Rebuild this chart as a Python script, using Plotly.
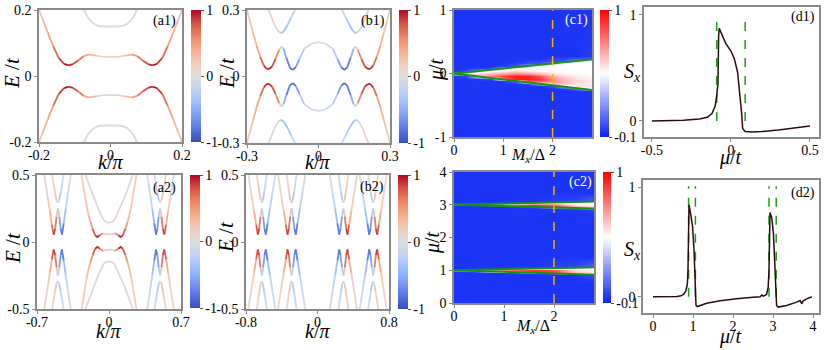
import plotly.graph_objects as go
from plotly.colors import sample_colorscale

W, H = 830, 350
FONT = "Liberation Serif"
FRAME = "#8a8a8a"

COOLWARM = [[0.0, "#3b4cc0"], [0.1, "#5977e3"], [0.2, "#7b9ff9"], [0.3, "#9ebeff"],
            [0.4, "#c0d4f5"], [0.5, "#dddcdc"], [0.6, "#f2cbb7"], [0.7, "#f7ac8e"],
            [0.8, "#ee8468"], [0.9, "#d65244"], [1.0, "#b40426"]]
BWR = [[0.0, "#0a24f5"], [0.5, "#ffffff"], [1.0, "#ff0000"]]

# ---------------- band data (k >= 0, E > 0 half; other quadrants by symmetry)
A1_IN_K = [0, 0.02, 0.04, 0.06, 0.075, 0.09, 0.105, 0.117, 0.13, 0.145, 0.16, 0.175, 0.19, 0.2, 0.21]
A1_IN_E = [0.057, 0.058, 0.062, 0.065, 0.06, 0.047, 0.036, 0.032, 0.037, 0.055, 0.09, 0.13, 0.172, 0.2, 0.23]
A1_IN_S = [0.05, 0.1, 0.22, 0.38, 0.55, 0.75, 0.9, 0.95, 0.92, 0.8, 0.55, 0.38, 0.28, 0.22, 0.2]

A1_OUT_K = [0, 0.02, 0.035, 0.045, 0.055, 0.065, 0.075, 0.085]
A1_OUT_E = [0.149, 0.15, 0.152, 0.157, 0.166, 0.18, 0.2, 0.225]
A1_OUT_S = [0.03, 0.03, 0.04, 0.05, 0.06, 0.08, 0.1, 0.1]

B1_IN_K = [0, 0.03, 0.06, 0.08, 0.095, 0.108, 0.12, 0.135, 0.147, 0.155, 0.165,
           0.18, 0.195, 0.208, 0.218, 0.23, 0.245, 0.26, 0.275, 0.29, 0.305]
B1_IN_E = [0.155, 0.148, 0.125, 0.078, 0.042, 0.03, 0.04, 0.085, 0.125, 0.135, 0.12,
           0.08, 0.045, 0.033, 0.035, 0.05, 0.09, 0.14, 0.2, 0.26, 0.32]
B1_IN_S = [-0.03, -0.06, -0.18, -0.45, -0.75, -0.92, -0.85, -0.65, -0.4, 0.0, 0.45,
           0.7, 0.88, 0.95, 0.95, 0.85, 0.55, 0.38, 0.28, 0.22, 0.18]

B1_UP_K = [0.085, 0.1, 0.115, 0.13, 0.145, 0.157, 0.17, 0.185, 0.2, 0.215]
B1_UP_E = [0.33, 0.297, 0.265, 0.232, 0.205, 0.195, 0.205, 0.235, 0.275, 0.315]
B1_UP_S = [-0.1, -0.15, -0.25, -0.35, -0.4, -0.3, 0.0, 0.12, 0.1, 0.08]

A2_IN_K = [0, 0.03, 0.06, 0.09, 0.113, 0.135, 0.16, 0.18, 0.2, 0.22, 0.24, 0.26, 0.275]
A2_IN_E = [0.06, 0.058, 0.066, 0.05, 0.037, 0.05, 0.1, 0.15, 0.205, 0.28, 0.37, 0.47, 0.54]
A2_IN_S = [0.05, 0.12, 0.4, 0.8, 0.95, 0.9, 0.6, 0.4, 0.3, 0.24, 0.2, 0.16, 0.14]

A2_OUT_K = [0, 0.03, 0.05, 0.075, 0.1, 0.125, 0.15, 0.18, 0.21, 0.24, 0.26]
A2_OUT_E = [0.145, 0.15, 0.163, 0.2, 0.24, 0.28, 0.33, 0.39, 0.45, 0.52, 0.56]
A2_OUT_S = [0.03, 0.03, 0.04, 0.06, 0.06, 0.07, 0.07, 0.07, 0.06, 0.05, 0.05]

# profile shared by the side crossings (lower band and upper V)
SIDE_LOW_E = [0.56, 0.46, 0.36, 0.25, 0.14, 0.055, 0.1, 0.19, 0.25, 0.19, 0.1, 0.055, 0.13, 0.23, 0.33, 0.43, 0.53]
SIDE_LOW_S = [-0.04, -0.06, -0.12, -0.25, -0.55, -0.9, -0.75, -0.5, 0.0, 0.5, 0.8, 0.92, 0.55, 0.3, 0.15, 0.08, 0.04]
SIDE_UP_E = [0.56, 0.46, 0.37, 0.31, 0.295, 0.31, 0.37, 0.46, 0.56]
SIDE_UP_S = [-0.04, -0.08, -0.2, -0.35, -0.1, 0.3, 0.2, 0.08, 0.04]

A2_SIDE_LOW_K = [0.36, 0.38, 0.4, 0.42, 0.44, 0.457, 0.47, 0.483, 0.497, 0.51, 0.523, 0.538, 0.555, 0.575, 0.595, 0.615, 0.635]
A2_SIDE_UP_K = [0.43, 0.45, 0.47, 0.485, 0.497, 0.51, 0.525, 0.545, 0.565]

B2_G1_LOW_K = [0.123, 0.147, 0.17, 0.197, 0.223, 0.243, 0.258, 0.274, 0.29, 0.306, 0.321, 0.336, 0.354, 0.378, 0.402, 0.425, 0.449]
B2_G2_LOW_K = [0.458, 0.482, 0.505, 0.532, 0.558, 0.578, 0.593, 0.608, 0.623, 0.638, 0.653, 0.668, 0.686, 0.71, 0.734, 0.757, 0.781]
B2_G1_UP_K = [0.223, 0.243, 0.263, 0.278, 0.29, 0.302, 0.317, 0.337, 0.357]
B2_G2_UP_K = [0.556, 0.576, 0.596, 0.611, 0.623, 0.635, 0.65, 0.67, 0.69]

# ---------------- heat maps
C1_M = [0, 0.25, 0.5, 0.75, 1.0, 1.25, 1.5, 1.75, 2.0, 2.25, 2.5, 2.8]
C1_MU = [-1.0, -0.6, -0.32, -0.28, -0.24, -0.20, -0.16, -0.12, -0.08, -0.04,
         0.0, 0.04, 0.08, 0.12, 0.16, 0.20, 0.24, 0.28, 0.6, 1.0]
B = -0.06
C1_Z = [
    [B, B, B, B, B, B, B, B, B, B, B, B],
    [B, B, B, B, B, B, B, B, B, B, B, B],
    [B, B, B, B, B, B, B, B, B, B, B, B],
    [B, B, B, B, B, B, B, B, B, B, B, -0.04],
    [B, B, B, B, B, B, B, B, B, B, 0.1, 0.5],
    [B, B, B, B, B, B, B, B, 0.0, 0.35, 0.52, 0.5],
    [B, B, B, B, B, B, -0.02, 0.3, 0.58, 0.55, 0.52, 0.5],
    [B, B, B, B, -0.04, 0.05, 0.8, 0.82, 0.7, 0.6, 0.54, 0.5],
    [B, B, -0.04, 0.0, 0.72, 0.93, 0.95, 0.88, 0.7, 0.58, 0.52, 0.48],
    [-0.04, -0.02, 0.5, 0.72, 0.87, 0.95, 0.92, 0.82, 0.62, 0.53, 0.49, 0.47],
    [0.3, 0.5, 0.6, 0.62, 0.68, 0.75, 0.72, 0.62, 0.52, 0.48, 0.46, 0.45],
    [-0.04, -0.01, 0.3, 0.45, 0.5, 0.55, 0.5, 0.48, 0.46, 0.45, 0.45, 0.45],
    [B, B, -0.04, 0.0, 0.3, 0.45, 0.45, 0.46, 0.45, 0.45, 0.45, 0.45],
    [B, B, B, B, -0.03, 0.02, 0.3, 0.45, 0.45, 0.45, 0.45, 0.45],
    [B, B, B, B, B, -0.03, 0.0, 0.02, 0.3, 0.45, 0.45, 0.45],
    [B, B, B, B, B, B, -0.03, -0.02, 0.0, 0.02, 0.3, 0.45],
    [B, B, B, B, B, B, B, B, -0.03, -0.02, 0.0, 0.05],
    [B, B, B, B, B, B, B, B, B, B, B, -0.04],
    [B, B, B, B, B, B, B, B, B, B, B, B],
    [B, B, B, B, B, B, B, B, B, B, B, B],
]

C2_M = [0, 0.4, 0.8, 1.2, 1.6, 2.0, 2.4, 2.8]
C2_MU = [0.0, 0.6, 0.84, 0.88, 0.92, 0.96, 1.0, 1.04, 1.08, 1.12, 1.4,
         2.6, 2.84, 2.88, 2.92, 2.96, 3.0, 3.04, 3.08, 3.12, 3.4, 4.0]
C2_Z = [
    [B, B, B, B, B, B, B, B],
    [B, B, B, B, B, B, B, B],
    [B, B, B, B, B, B, B, 0.0],
    [B, B, B, B, B, -0.02, 0.3, 0.5],
    [B, B, B, -0.02, 0.35, 0.65, 0.58, 0.5],
    [B, -0.02, 0.3, 0.68, 0.9, 0.85, 0.6, 0.5],
    [0.4, 0.5, 0.58, 0.78, 0.9, 0.85, 0.52, 0.47],
    [-0.03, 0.0, 0.05, 0.3, 0.47, 0.5, 0.45, 0.45],
    [B, B, B, -0.03, -0.02, 0.05, 0.3, 0.45],
    [B, B, B, B, B, -0.03, -0.02, 0.05],
    [B, B, B, B, B, B, B, B],
    [B, B, B, B, B, B, B, B],
    [B, B, B, B, B, B, B, -0.03],
    [B, B, B, B, B, B, -0.02, 0.15],
    [B, B, B, B, -0.02, 0.35, 0.58, 0.5],
    [B, B, 0.0, 0.4, 0.88, 0.85, 0.62, 0.5],
    [0.4, 0.5, 0.58, 0.78, 0.9, 0.8, 0.52, 0.47],
    [-0.03, 0.0, 0.05, 0.3, 0.47, 0.5, 0.46, 0.45],
    [B, B, B, -0.03, -0.02, 0.05, 0.3, 0.45],
    [B, B, B, B, B, -0.03, -0.02, 0.05],
    [B, B, B, B, B, B, B, B],
    [B, B, B, B, B, B, B, B],
]

C_EDGE_M = [0, 2.8]
C1_EDGE_UP = [0, 0.224]
C1_EDGE_LO = [0, -0.26]
C2_EDGE_UP1 = [1.0, 1.095]
C2_EDGE_LO1 = [1.0, 0.86]
C2_EDGE_UP3 = [3.0, 3.098]
C2_EDGE_LO3 = [3.0, 2.888]
C_CUT = 2.0

# ---------------- line cuts
D1_MU = [-0.5, -0.4, -0.3, -0.2, -0.15, -0.12, -0.1, -0.09, -0.082, -0.078,
         -0.074, -0.053, -0.032, 0.0, 0.021, 0.042, 0.057, 0.068, 0.074, 0.09,
         0.13, 0.2, 0.3, 0.4, 0.5]
D1_S = [0.0, 0.002, 0.006, 0.018, 0.035, 0.07, 0.14, 0.24, 0.35, 0.8,
        0.875, 0.8, 0.73, 0.66, 0.59, 0.46, 0.27, 0.07, -0.07, -0.1,
        -0.105, -0.1, -0.085, -0.065, -0.047]
D1_MARKS = [-0.09, 0.09]

D2_MU = [0.0, 0.3, 0.6, 0.7, 0.76, 0.82, 0.86, 0.875, 0.885, 0.9,
         0.94, 0.99, 1.025, 1.05, 1.075, 1.11, 1.34, 1.68, 2.09, 2.5,
         2.68, 2.72, 2.76, 2.84, 2.88, 2.9, 2.91, 2.925, 2.97, 3.01,
         3.04, 3.075, 3.09, 3.13, 3.34, 3.59, 3.68, 3.72, 3.75, 3.84, 3.97]
D2_S = [0.0, 0.0, 0.002, 0.008, 0.02, 0.05, 0.12, 0.25, 0.5, 0.84,
        0.76, 0.64, 0.43, 0.15, -0.08, -0.09, -0.06, -0.037, -0.018, -0.006,
        0.0, 0.015, 0.005, 0.02, 0.09, 0.24, 0.5, 0.77, 0.72, 0.58,
        0.34, 0.06, -0.08, -0.095, -0.08, -0.05, -0.035, -0.065, -0.04, -0.02, 0.0]
D2_MARKS = [0.89, 1.06, 2.9, 3.08]

# ---------------- panel geometry: box = (left, right, top, bottom) in px
PANELS = [
    ("a1", (39, 182, 10, 142), [-0.2, 0.2], [-0.2, 0.2], [-0.2, 0, 0.2], [-0.2, 0, 0.2]),
    ("b1", (247, 390, 10, 143), [-0.3, 0.3], [-0.3, 0.3], [-0.3, 0, 0.3], [-0.3, 0, 0.3]),
    ("c1", (454, 592, 10, 137), [0, 2.8], [-1, 1], [0, 1, 2], [-1, 0, 1]),
    ("d1", (644, 819, 7, 137), [-0.55, 0.557], [-0.151, 1.075], [-0.5, 0, 0.5], [0, 1]),
    ("a2", (37, 181, 175, 309), [-0.7, 0.7], [-0.5, 0.5], [-0.7, 0, 0.7], [-0.5, 0, 0.5]),
    ("b2", (246, 389, 175, 309), [-0.8, 0.8], [-0.5, 0.5], [-0.8, 0, 0.8], [-0.5, 0, 0.5]),
    ("c2", (454, 594, 172, 303), [0, 2.8], [0, 4], [0, 1, 2], [0, 1, 2, 3, 4]),
    ("d2", (643, 819, 180, 313), [-0.25, 4.15], [-0.149, 1.067], [0, 1, 2, 3, 4], [0, 1]),
]
AX = {name: i + 1 for i, (name, *_) in enumerate(PANELS)}


def refs(name):
    i = AX[name]
    return ("x" if i == 1 else f"x{i}"), ("y" if i == 1 else f"y{i}")


def tick_text(vals):
    return ["0" if v == 0 else f"{v:g}" for v in vals]


def symmetric(k, e, s, through_zero):
    if through_zero:
        kk = [-v for v in k[:0:-1]] + list(k)
        ee = list(e[:0:-1]) + list(e)
        ss = list(s[:0:-1]) + list(s)
        return [(kk, ee, ss), (kk, [-v for v in ee], ss)]
    out = []
    for sk in (1, -1):
        for se in (1, -1):
            out.append(([sk * v for v in k], [se * v for v in e], list(s)))
    return out


NBIN = 40


def add_bands(fig, name, curves):
    xr, yr = refs(name)
    paths = {}
    for k, e, s in curves:
        cur = None
        for i in range(len(k) - 1):
            b = round(((s[i] + s[i + 1]) / 2 + 1) / 2 * NBIN)
            xs, ys = paths.setdefault(b, ([], []))
            if b != cur:
                xs.extend([None, k[i]])
                ys.extend([None, e[i]])
                cur = b
            xs.append(k[i + 1])
            ys.append(e[i + 1])
    for b in sorted(paths, key=lambda v: abs(v - NBIN / 2)):
        xs, ys = paths[b]
        col = sample_colorscale(COOLWARM, [b / NBIN])[0]
        fig.add_trace(go.Scatter(x=xs, y=ys, mode="lines", line=dict(color=col, width=1.8),
                                 xaxis=xr, yaxis=yr, hoverinfo="skip", showlegend=False))


def colorbar(x0, x1, top, bottom, vals):
    return dict(x=x0 / W, xanchor="left", y=1 - (top + bottom) / 2 / H, yanchor="middle",
                len=(bottom - top) / H, lenmode="fraction", thickness=x1 - x0,
                thicknessmode="pixels", xpad=0, ypad=0, outlinewidth=0,
                tickvals=vals, ticktext=tick_text(vals), ticks="outside", ticklen=3,
                tickcolor="#555555", tickfont=dict(family=FONT, size=14, color="black"))


def add_cbar_dummy(fig, name, box):
    xr, yr = refs(name)
    fig.add_trace(go.Scatter(
        x=[0, 0], y=[0, 0], mode="markers", xaxis=xr, yaxis=yr, hoverinfo="skip",
        showlegend=False,
        marker=dict(size=1, opacity=0, color=[-1, 1], colorscale=COOLWARM, cmin=-1, cmax=1,
                    showscale=True, colorbar=colorbar(*box, [-1, 0, 1]))))


fig = go.Figure()

# (a1)
add_bands(fig, "a1", symmetric(A1_OUT_K, A1_OUT_E, A1_OUT_S, True)
          + symmetric(A1_IN_K, A1_IN_E, A1_IN_S, True))
add_cbar_dummy(fig, "a1", (191, 201, 10, 142))

# (b1)
add_bands(fig, "b1", symmetric(B1_UP_K, B1_UP_E, B1_UP_S, False)
          + symmetric(B1_IN_K, B1_IN_E, B1_IN_S, True))
add_cbar_dummy(fig, "b1", (399, 408, 10, 143))

# (a2)
add_bands(fig, "a2", symmetric(A2_OUT_K, A2_OUT_E, A2_OUT_S, True)
          + symmetric(A2_SIDE_UP_K, SIDE_UP_E, SIDE_UP_S, False)
          + symmetric(A2_SIDE_LOW_K, SIDE_LOW_E, SIDE_LOW_S, False)
          + symmetric(A2_IN_K, A2_IN_E, A2_IN_S, True))
add_cbar_dummy(fig, "a2", (190, 200, 175, 308))

# (b2)
add_bands(fig, "b2", symmetric(B2_G1_UP_K, SIDE_UP_E, SIDE_UP_S, False)
          + symmetric(B2_G2_UP_K, SIDE_UP_E, SIDE_UP_S, False)
          + symmetric(B2_G1_LOW_K, SIDE_LOW_E, SIDE_LOW_S, False)
          + symmetric(B2_G2_LOW_K, SIDE_LOW_E, SIDE_LOW_S, False))
add_cbar_dummy(fig, "b2", (398, 408, 175, 309))

# (c1), (c2)
GREEN = "#169316"
ORANGE = "#f2b30c"
for name, m, mu, z, cb, edges, yspan in [
    ("c1", C1_M, C1_MU, C1_Z, (600, 609, 10, 137), [C1_EDGE_UP, C1_EDGE_LO], [-1, 1]),
    ("c2", C2_M, C2_MU, C2_Z, (603, 611, 172, 303),
     [C2_EDGE_UP1, C2_EDGE_LO1, C2_EDGE_UP3, C2_EDGE_LO3], [0, 4]),
]:
    xr, yr = refs(name)
    fig.add_trace(go.Heatmap(x=m, y=mu, z=z, colorscale=BWR, zmin=-0.1, zmax=1, zsmooth="best",
                             xaxis=xr, yaxis=yr, hoverinfo="skip",
                             colorbar=colorbar(*cb, [-0.1, 1])))
    for edge in edges:
        fig.add_trace(go.Scatter(x=C_EDGE_M, y=edge, mode="lines", line=dict(color=GREEN, width=2),
                                 xaxis=xr, yaxis=yr, hoverinfo="skip", showlegend=False))
    fig.add_trace(go.Scatter(x=[C_CUT, C_CUT], y=yspan, mode="lines",
                             line=dict(color=ORANGE, width=1.5, dash="dash"),
                             xaxis=xr, yaxis=yr, hoverinfo="skip", showlegend=False))

# (d1), (d2)
for name, mu, s, marks in [("d1", D1_MU, D1_S, D1_MARKS), ("d2", D2_MU, D2_S, D2_MARKS)]:
    xr, yr = refs(name)
    vx, vy = [], []
    for v in marks:
        vx += [v, v, None]
        vy += [0, 1.01, None]
    fig.add_trace(go.Scatter(x=vx, y=vy, mode="lines", line=dict(color="#1e9a1e", width=1.5, dash="dash"),
                             xaxis=xr, yaxis=yr, hoverinfo="skip", showlegend=False))
    fig.add_trace(go.Scatter(x=mu, y=s, mode="lines", line=dict(color="#2b0d0d", width=1.5),
                             xaxis=xr, yaxis=yr, hoverinfo="skip", showlegend=False))

# axes
layout = {}
for name, (l, r, t, b), xrng, yrng, xt, yt in PANELS:
    i = AX[name]
    common = dict(showline=True, mirror=True, linecolor=FRAME, linewidth=1.5, ticks="outside",
                  ticklen=3, tickcolor=FRAME, showgrid=False, zeroline=False, automargin=False,
                  tickfont=dict(family=FONT, size=14, color="black"))
    layout["xaxis" if i == 1 else f"xaxis{i}"] = dict(
        domain=[l / W, r / W], range=xrng, tickvals=xt, ticktext=tick_text(xt),
        anchor="y" if i == 1 else f"y{i}", ticklabelstandoff=-4, **common)
    layout["yaxis" if i == 1 else f"yaxis{i}"] = dict(
        domain=[1 - b / H, 1 - t / H], range=yrng, tickvals=yt, ticktext=tick_text(yt),
        anchor="x" if i == 1 else f"x{i}", **common)

ANNOT = [
    # text, x px, y px, size, angle, colour
    ("<i>E</i> /<i>t</i>", 12, 73, 21, -90, "black"),
    ("<i>k</i>/<i>π</i>", 110, 162, 20, 0, "black"),
    ("<i>E</i> /<i>t</i>", 227, 73, 21, -90, "black"),
    ("<i>k</i>/<i>π</i>", 317, 162, 20, 0, "black"),
    ("<i>μ</i>/<i>t</i>", 437, 70, 20, -90, "black"),
    ("<i>M<sub>x</sub></i>/Δ", 528, 155, 16, 0, "black"),
    ("<i>S<sub>x</sub></i>", 632, 72, 20, 0, "black"),
    ("<i>μ</i>/<i>t</i>", 730, 157, 20, 0, "black"),
    ("<i>E</i> /<i>t</i>", 13, 248, 21, -90, "black"),
    ("<i>k</i>/<i>π</i>", 108, 331, 20, 0, "black"),
    ("<i>E</i> /<i>t</i>", 226, 237, 21, -90, "black"),
    ("<i>k</i>/<i>π</i>", 317, 331, 20, 0, "black"),
    ("<i>μ</i>/<i>t</i>", 432, 243, 20, -90, "black"),
    ("<i>M<sub>x</sub></i>/Δ", 533, 326, 16, 0, "black"),
    ("<i>S<sub>x</sub></i>", 632, 250, 20, 0, "black"),
    ("<i>μ</i>/<i>t</i>", 730, 336, 20, 0, "black"),
    ("(a1)", 164, 21, 14, 0, "black"),
    ("(b1)", 373, 21, 14, 0, "black"),
    ("(c1)", 576, 20, 14, 0, "white"),
    ("(d1)", 803, 17, 14, 0, "black"),
    ("(a2)", 164, 188, 14, 0, "black"),
    ("(b2)", 372, 187, 14, 0, "black"),
    ("(c2)", 580, 182, 14, 0, "white"),
    ("(d2)", 803, 193, 14, 0, "black"),
]
annotations = [
    dict(text=txt, x=x / W, y=1 - y / H, xref="paper", yref="paper", showarrow=False,
         textangle=ang, xanchor="center", yanchor="middle",
         font=dict(family=FONT, size=size, color=col))
    for txt, x, y, size, ang, col in ANNOT
]

fig.update_layout(
    width=W, height=H, margin=dict(l=0, r=0, t=0, b=0, autoexpand=False),
    paper_bgcolor="white", plot_bgcolor="white", showlegend=False,
    font=dict(family=FONT), annotations=annotations, **layout,
)

# the page itself should not add a body margin around the figure
fig.write_html("out.html", config={"displayModeBar": False},
               post_script="document.body.style.margin = '0';")
